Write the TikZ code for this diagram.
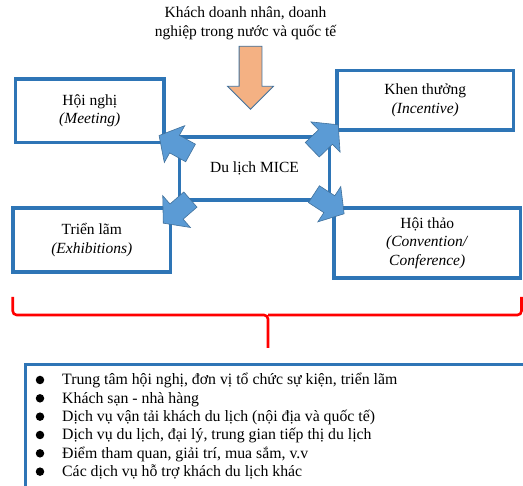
\documentclass[tikz,border=0pt]{standalone}
\usepackage{fontspec}
\setmainfont{Liberation Serif}
\usetikzlibrary{shapes.arrows}
\definecolor{boxblue}{HTML}{2E75B6}
\definecolor{arrfill}{HTML}{5B9BD5}
\definecolor{arredge}{HTML}{41719C}
\definecolor{orfill}{HTML}{F4B183}
\tikzset{
  box/.style={draw=boxblue, line width=3.5pt, fill=white, align=center, inner sep=0pt,
    font=\fontsize{15.5}{18.5}\selectfont},
  bluearrow/.style={single arrow, fill=arrfill, draw=arredge, line width=0.6pt,
    minimum height=36pt, minimum width=0pt, inner sep=9.75pt,
    single arrow head extend=11pt, single arrow tip angle=100},
  listtext/.style={anchor=base west, inner sep=0pt, font=\fontsize{15.8}{18.5}\selectfont},
  bul/.style={circle, fill=black, inner sep=0pt, minimum size=8.5pt}
}
\begin{document}
\begin{tikzpicture}[x=1pt,y=-1pt]
\path[use as bounding box] (0,0) rectangle (523,486);
\clip (0,0) rectangle (523,486);
% top label
\node[align=center, inner sep=0pt, font=\fontsize{15.5}{19}\selectfont] (clients) at (245.5,23.5)
  {Khách doanh nhân, doanh\\nghiệp trong nước và quốc tế};
% orange arrow
\node[single arrow, fill=orfill, draw=arredge, line width=0.8pt, rotate=-90,
  minimum height=63pt, minimum width=0pt, inner sep=11pt,
  single arrow head extend=11.5pt, single arrow tip angle=90] (down) at (250.5,72) {};
% boxes
\node[box, minimum width=148.5pt, minimum height=63.5pt] (meet) at (89.75,110.75)
  {Hội nghị\\\textit{(Meeting)}};
\node[box, minimum width=176.5pt, minimum height=59.5pt] (inc) at (425.25,100.25)
  {Khen thưởng\\\textit{(Incentive)}};
\node[box, minimum width=150pt, minimum height=63pt] (mice) at (254.5,168.5)
  {Du lịch MICE};
\node[box, minimum width=157.5pt, minimum height=64pt] (exh) at (91.75,240)
  {Triển lãm\\\textit{(Exhibitions)}};
\node[box, minimum width=186.5pt, minimum height=70pt] (conv) at (427.25,243)
  {Hội thảo\\\textit{(Convention/}\\\textit{Conference)}};
% blue corner arrows
\node[bluearrow, rotate=151] (aul) at (178.5,146.3) {};
\node[bluearrow, rotate=44] (aur) at (322.2,140.2) {};
\node[bluearrow, rotate=221] (all) at (180,208.6) {};
\node[bluearrow, rotate=-33] (alr) at (325.5,201.7) {};
% red brace
\coordinate (bl) at (12.7,297);
\coordinate (br) at (521.5,297);
\coordinate (bm) at (268,315);
\coordinate (btip) at (268,348);
\draw[red, line width=2.6pt, rounded corners=4pt] (bl) |- (bm) -- (btip);
\draw[red, line width=2.6pt, rounded corners=4pt] (br) |- (bm);
% bottom list box
\node[draw=boxblue, line width=2.8pt, minimum width=520pt, minimum height=140pt, anchor=north west,
  inner sep=0pt] (listbox) at (24,363) {};
\foreach \i/\t in {0/{Trung tâm hội nghị, đơn vị tổ chức sự kiện, triển lãm},
                   1/{Khách sạn - nhà hàng},
                   2/{Dịch vụ vận tải khách du lịch (nội địa và quốc tế)},
                   3/{Dịch vụ du lịch, đại lý, trung gian tiếp thị du lịch},
                   4/{Điểm tham quan, giải trí, mua sắm, v.v},
                   5/{Các dịch vụ hỗ trợ khách du lịch khác}}{
  \node[listtext] (item\i) at (62,{385+18.33*\i}) {\t};
  \node[bul] (bul\i) at (40,{380+18.33*\i}) {};
}
\end{tikzpicture}
\end{document}
